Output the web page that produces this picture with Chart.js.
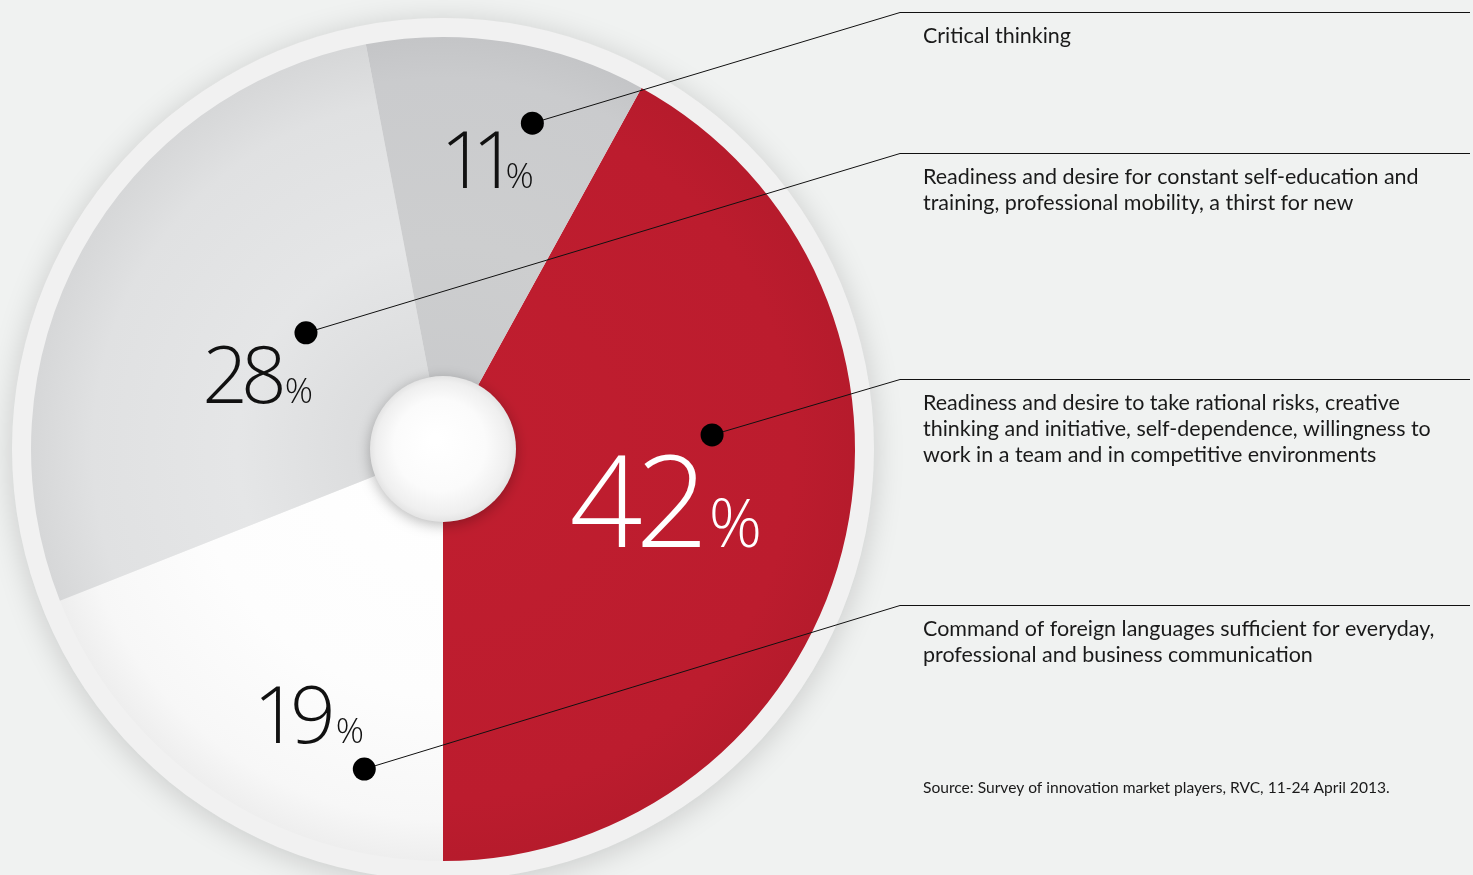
<!DOCTYPE html>
<html>
<head>
<meta charset="utf-8">
<script src="https://cdn.jsdelivr.net/npm/chart.js@4.4.0/dist/chart.umd.min.js"></script>
<style>
  html, body { margin: 0; padding: 0; background: #f0f2f1; overflow: hidden; }
  canvas { display: block; }
</style>
</head>
<body>
<canvas id="chart" width="1473" height="875"></canvas>
<script>
// Shares of respondents, clockwise from the red slice
const categories = [
  "Readiness and desire to take rational risks, creative thinking and initiative, self-dependence, willingness to work in a team and in competitive environments",
  "Command of foreign languages sufficient for everyday, professional and business communication",
  "Readiness and desire for constant self-education and training, professional mobility, a thirst for new",
  "Critical thinking"
];
const shares = [42, 19, 28, 11];
const captionLines = [
  ["Readiness and desire to take rational risks, creative",
   "thinking and initiative, self-dependence, willingness to",
   "work in a team and in competitive environments"],
  ["Command of foreign languages sufficient for everyday,",
   "professional and business communication"],
  ["Readiness and desire for constant self-education and",
   "training, professional mobility, a thirst for new"],
  ["Critical thinking"]
];
const sourceNote = "Source: Survey of innovation market players, RVC, 11-24 April 2013.";

// ---- layout & style ----
const CAPTION_RULE_Y = [379, 605, 153, 12];
const ELBOW_X = 900, RULE_END_X = 1470, TEXT_X = 923;
// [fraction along the slice angle, fraction of the radius]
const DOT_POS = [[0.385, 0.654], [0.202, 0.80], [0.614, 0.436], [0.66, 0.82]];
const LABEL_POS = [[0.518, 0.81], [0.22, 0.739], [0.408, 0.335], [0.757, 0.671]];
const LABEL_SIZE = [[128, 66], [80, 35], [80, 35], [80, 35]];
const LABEL_TRACK = [-7, -9, -7, -14];
const LABEL_GAP = [0, 0, -2, -12];
const LABEL_COLOR = ['#ffffff', '#111111', '#111111', '#111111'];
const NUM_FONT = '"Open Sans", "Segoe UI", sans-serif';
const TEXT_FONT = 'Lato, "Open Sans", sans-serif';

const SLICE_STOPS = [
  [[0, '#c01e2f'], [0.85, '#bc1c2e'], [1, '#b61b2c']],
  [[0, '#ffffff'], [0.6, '#fdfdfd'], [0.9, '#f7f7f7'], [1, '#eeeeee']],
  [[0, '#d6d7d8'], [0.5, '#e5e6e7'], [0.85, '#e0e1e2'], [1, '#d6d7d8']],
  [[0, '#c8c9cb'], [0.5, '#cdcecf'], [0.9, '#cacbcd'], [1, '#c4c5c7']]
];

function sliceFill(context) {
  const chart = context.chart;
  const area = chart.chartArea;
  const i = context.dataIndex;
  if (!area) return SLICE_STOPS[i][1][1];
  const cx = (area.left + area.right) / 2, cy = (area.top + area.bottom) / 2;
  const r = chart.options.radius;
  const g = chart.ctx.createRadialGradient(cx, cy, 0, cx, cy, r);
  SLICE_STOPS[i].forEach(([o, c]) => g.addColorStop(o, c));
  return g;
}

function polar(el, pos) {
  const a = el.startAngle + pos[0] * (el.endAngle - el.startAngle);
  const r = pos[1] * el.outerRadius;
  return [el.x + r * Math.cos(a), el.y + r * Math.sin(a)];
}

const decor = {
  id: 'decor',
  beforeDatasetsDraw(chart) {
    const ctx = chart.ctx;
    const el = chart.getDatasetMeta(0).data[0];
    ctx.save();
    ctx.shadowColor = 'rgba(0,0,0,0.17)';
    ctx.shadowBlur = 30;
    ctx.shadowOffsetY = 4;
    ctx.beginPath();
    ctx.arc(el.x, el.y, el.outerRadius + 19, 0, Math.PI * 2);
    ctx.fillStyle = '#f1f1f1';
    ctx.fill();
    ctx.restore();
  },
  afterDatasetsDraw(chart) {
    const ctx = chart.ctx;
    const arcs = chart.getDatasetMeta(0).data;
    const cx = arcs[0].x, cy = arcs[0].y;

    // raised hub in the middle
    ctx.save();
    ctx.shadowColor = 'rgba(0,0,0,0.28)';
    ctx.shadowBlur = 14;
    ctx.shadowOffsetY = 3;
    const hub = ctx.createRadialGradient(cx - 8, cy - 10, 5, cx, cy, 73);
    hub.addColorStop(0, '#ffffff');
    hub.addColorStop(0.6, '#fbfbfb');
    hub.addColorStop(0.9, '#efefef');
    hub.addColorStop(1, '#e4e4e4');
    ctx.beginPath();
    ctx.arc(cx, cy, 73, 0, Math.PI * 2);
    ctx.fillStyle = hub;
    ctx.fill();
    ctx.restore();

    // percentage labels
    arcs.forEach((el, i) => {
      const [rx, by] = polar(el, LABEL_POS[i]);
      const [big, small] = LABEL_SIZE[i];
      const num = String(shares[i]);
      ctx.save();
      ctx.fillStyle = LABEL_COLOR[i];
      ctx.textBaseline = 'alphabetic';
      ctx.letterSpacing = '0px';
      ctx.font = `300 ${small}px ${NUM_FONT}`;
      const wp = ctx.measureText('%').width;
      ctx.font = `300 ${big}px ${NUM_FONT}`;
      ctx.letterSpacing = LABEL_TRACK[i] + 'px';
      const wn = ctx.measureText(num).width - LABEL_TRACK[i] + LABEL_GAP[i];
      const x0 = rx - wp - wn;
      ctx.fillText(num, x0, by);
      ctx.letterSpacing = '0px';
      ctx.font = `300 ${small}px ${NUM_FONT}`;
      ctx.fillText('%', x0 + wn, by);
      ctx.restore();
    });

    // leaders, rules and captions
    ctx.save();
    ctx.font = `400 20px ${TEXT_FONT}`;
    const fitSize = 20 * 508 / ctx.measureText(captionLines[0][1]).width;
    arcs.forEach((el, i) => {
      const [dx, dy] = polar(el, DOT_POS[i]);
      const ry = CAPTION_RULE_Y[i];
      ctx.strokeStyle = '#111';
      ctx.lineWidth = 1;
      ctx.beginPath();
      ctx.moveTo(dx, dy);
      ctx.lineTo(ELBOW_X, ry + 0.5);
      ctx.lineTo(RULE_END_X, ry + 0.5);
      ctx.stroke();
      ctx.fillStyle = '#000';
      ctx.beginPath();
      ctx.arc(dx, dy, 11.5, 0, Math.PI * 2);
      ctx.fill();

      ctx.fillStyle = '#1a1a1a';
      ctx.font = `400 ${fitSize}px ${TEXT_FONT}`;
      ctx.textBaseline = 'alphabetic';
      captionLines[i].forEach((line, k) => {
        ctx.fillText(line, TEXT_X, ry + 31 + k * 26);
      });
    });
    ctx.font = `400 20px ${TEXT_FONT}`;
    const srcSize = 20 * 467 / ctx.measureText(sourceNote).width;
    ctx.font = `400 ${srcSize}px ${TEXT_FONT}`;
    ctx.fillStyle = '#1a1a1a';
    ctx.fillText(sourceNote, TEXT_X, 793);
    ctx.restore();
  }
};

new Chart(document.getElementById('chart'), {
  type: 'pie',
  data: {
    labels: categories,
    datasets: [{
      data: shares,
      backgroundColor: sliceFill,
      borderWidth: 0,
      hoverOffset: 0
    }]
  },
  options: {
    responsive: false,
    animation: false,
    rotation: 28.8,
    radius: 412,
    layout: { padding: { left: 0, right: 587, top: 23, bottom: 0 } },
    plugins: { legend: { display: false }, tooltip: { enabled: false } },
    events: []
  },
  plugins: [decor]
});
</script>
</body>
</html>
